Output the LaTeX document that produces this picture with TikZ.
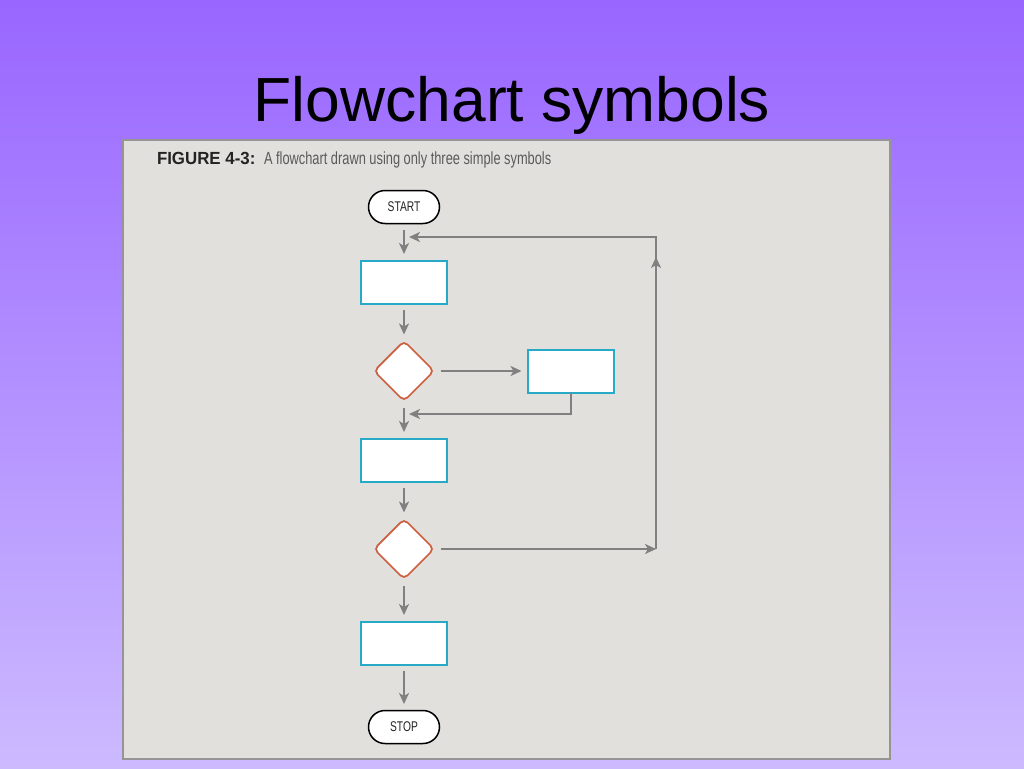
\documentclass[tikz,border=0pt]{standalone}
\usepackage{fontspec}
\setmainfont{Liberation Sans}
\newfontfamily\narrowfont[FakeStretch=0.73,BoldFeatures={FakeStretch=0.96}]{Liberation Sans}
\usepackage{tikz}
\usetikzlibrary{positioning}
\usetikzlibrary{shapes,arrows,arrows.meta,backgrounds,fit,shapes.geometric,calc}
\usepackage{color}
\definecolor{bgtop}{RGB}{153,102,255}
\definecolor{bgbot}{RGB}{204,186,255}
\definecolor{panelfill}{RGB}{226,224,221}
\definecolor{panelline}{RGB}{150,148,148}
\definecolor{linegray}{RGB}{128,128,128}
\definecolor{boxblue}{RGB}{38,170,200}
\definecolor{decisionred}{RGB}{205,95,65}
\definecolor{captiondark}{RGB}{35,35,35}
\definecolor{captiongray}{RGB}{90,90,90}
\tikzset{
    %Define standard arrow tip
    >={Stealth[length=0.22cm,width=0.2cm,inset=0.06cm]},
    % Define arrow style
    pil/.style={
           ->,
           draw=linegray,
           line width=1.1pt,
           shorten <=0.13cm,
           shorten >=0.13cm,},
    % Define symbol styles
    term/.style={
           draw=black,
           fill=white,
           line width=0.03cm,
           rounded corners=0.33cm,
           minimum width=1.42cm,
           minimum height=0.66cm,
           inner sep=0pt,
           text=captiondark,
           font=\fontsize{8}{10}\selectfont\narrowfont,},
    proc/.style={
           draw=boxblue,
           fill=white,
           line width=0.04cm,
           minimum width=1.72cm,
           minimum height=0.86cm,
           inner sep=0pt,},
    decision/.style={
           shape=diamond,
           draw=decisionred,
           fill=white,
           line width=0.035cm,
           rounded corners=0.1cm,
           minimum width=1.2cm,
           minimum height=1.2cm,
           inner sep=0pt,}
}
\begin{document}
\begin{tikzpicture}[x=0.02cm, y=-0.02cm, outer sep = 0pt]

%%%%%%%%%%%%%%%%%%%%%%%%%%%%%%%%%

% background
\shade [top color=bgtop, bottom color=bgbot] (0,0) rectangle (1024,768);
\useasboundingbox (0,0) rectangle (1024,768);

% title
\node (title) [anchor=base, font=\fontsize{35.5}{40}\selectfont] at (512,121) {Flowchart symbols};

% figure panel
\draw [panelline, fill=panelfill, line width=0.04cm] (123,140) rectangle (890,759);

% caption
\node (figlabel) [anchor=base west, inner sep=0pt, text=captiondark,
      font=\fontsize{10}{12}\selectfont\narrowfont\bfseries] at (157,164) {FIGURE 4-3:};
\node (figtext) [anchor=base west, inner sep=0pt, text=captiongray,
      font=\fontsize{10}{12}\selectfont\narrowfont] at (264,164) {A flowchart drawn using only three simple symbols};

% terminals
\node (start) [term] at (404,207) {START};
\node (stop)  [term] at (404,727) {STOP};

% process boxes
\node (proc1) [proc] at (404,282) {};
\node (proc2) [proc] at (404,460) {};
\node (proc3) [proc] at (404,643) {};
\node (side)  [proc] at (571,371) {};

% decisions
\node (dec1) [decision] at (404,371) {};
\node (dec2) [decision] at (404,549) {};

% join points
\coordinate (join0) at (404,237);
\coordinate (join1) at (404,414);
\coordinate (loopb) at (656,549);
\coordinate (loopm) at (656,257);

% main flow
\draw [pil] (start) -- (proc1);
\draw [pil] (proc1) -- (dec1);
\draw [pil] (dec1)  -- (proc2);
\draw [pil] (proc2) -- (dec2);
\draw [pil] (dec2)  -- (proc3);
\draw [pil] (proc3) -- (stop);

% side branch
\draw [pil] (dec1) -- (side);
\draw [pil, shorten <=0pt, shorten >=0.1cm] (side) |- (join1);

% loop back
\draw [pil, shorten >=0pt] (dec2) -- (loopb);
\draw [pil, shorten <=0pt, shorten >=0.1cm] (loopb) |- (join0);
\draw [pil, shorten <=0pt, shorten >=0pt] (loopb) -- (loopm);

\end{tikzpicture}
\end{document}
